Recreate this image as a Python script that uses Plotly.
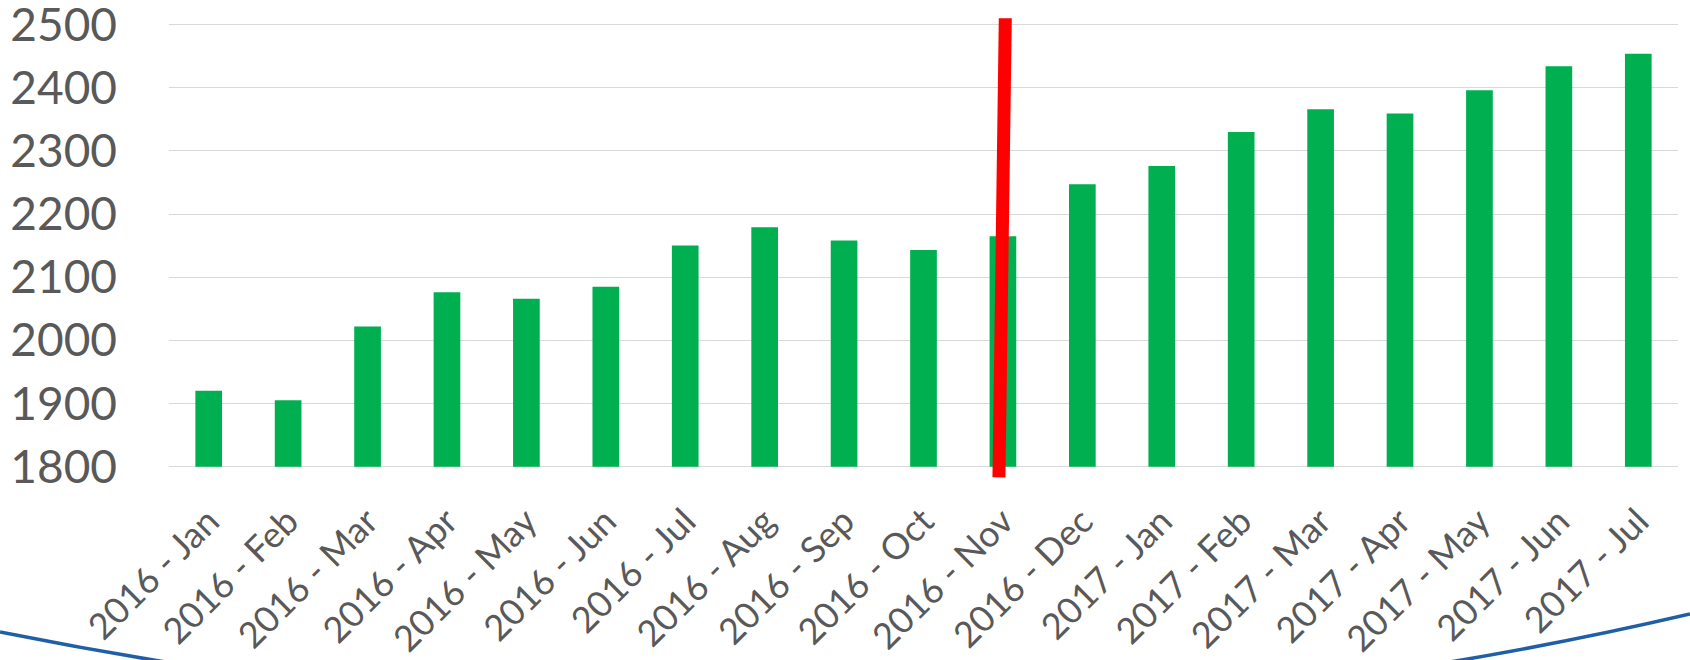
import plotly.graph_objects as go

categories = ["2016 - Jan", "2016 - Feb", "2016 - Mar", "2016 - Apr", "2016 - May",
              "2016 - Jun", "2016 - Jul", "2016 - Aug", "2016 - Sep", "2016 - Oct",
              "2016 - Nov", "2016 - Dec", "2017 - Jan", "2017 - Feb", "2017 - Mar",
              "2017 - Apr", "2017 - May", "2017 - Jun", "2017 - Jul"]
values = [1920, 1905, 2022, 2076, 2066, 2085, 2150, 2179, 2158, 2143,
          2165, 2247, 2276, 2330, 2366, 2359, 2396, 2434, 2454]
y_ticks = [1800, 1900, 2000, 2100, 2200, 2300, 2400, 2500]
base_value = 1800

# red marker line (category position, value)
marker_x = [10.03, 9.95]
marker_y = [2510, 1783]

W, H = 1690, 660
L, R, T, B = 169, 12, 17, 182
pw, ph = W - L - R, H - T - B

xs = list(range(len(categories)))

fig = go.Figure()
fig.add_trace(go.Bar(
    x=xs, y=[v - base_value for v in values], base=base_value,
    width=0.336, marker=dict(color="#00B050", line=dict(width=0)),
    showlegend=False, hoverinfo="skip"))
fig.add_trace(go.Scatter(
    x=marker_x, y=marker_y, mode="lines",
    line=dict(color="#FF0000", width=13), showlegend=False, hoverinfo="skip"))

# decorative blue arc (pixel coords -> paper)
def px(x, y):
    return (x - L) / pw, (H - B - y) / ph

p0 = px(0, 632); c = px(865, 806); p2 = px(1690, 614)
fig.add_shape(type="path", xref="paper", yref="paper",
              path=f"M {p0[0]},{p0[1]} Q {c[0]},{c[1]} {p2[0]},{p2[1]}",
              line=dict(color="#1F5FA8", width=3.5), layer="below")

fig.update_layout(
    width=W, height=H,
    margin=dict(l=L, r=R, t=T, b=B, autoexpand=False),
    plot_bgcolor="white", paper_bgcolor="white",
    font=dict(family="Lato", color="#595959"),
    xaxis=dict(range=[-0.5, len(categories) - 0.5], tickvals=xs, ticktext=categories,
               tickangle=-45, tickfont=dict(size=36, color="#595959"),
               showgrid=False, zeroline=False, showline=False, ticks="",
               ticklabelstandoff=14, automargin=False),
    yaxis=dict(range=[1782, 2512], tickvals=y_ticks,
               tickfont=dict(size=46, color="#595959"),
               showgrid=True, gridcolor="#D9D9D9", gridwidth=1.4,
               zeroline=False, showline=False, ticks="", ticklabelstandoff=51,
               ticklabeloverflow="allow", automargin=False),
)

fig.write_html("out.html", config={"displayModeBar": False},
               post_script="document.body.style.margin='0';document.body.style.padding='0';")
